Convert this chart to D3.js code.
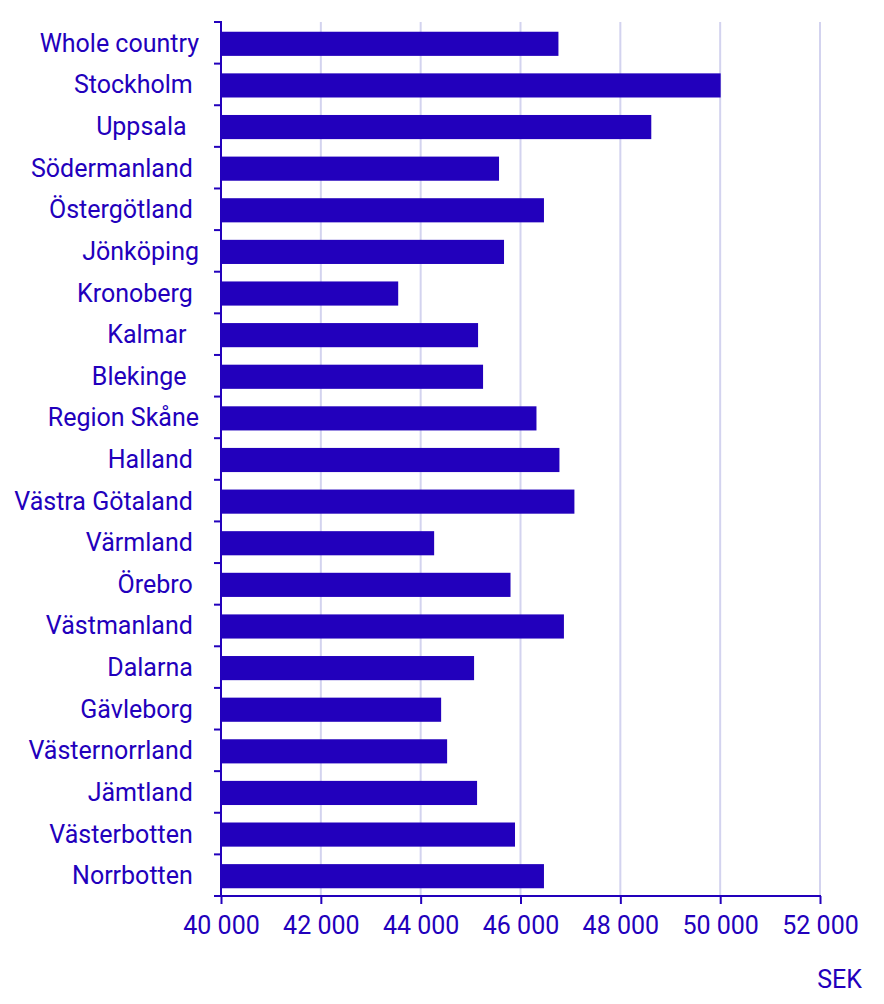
<!DOCTYPE html>
<html>
<head>
<meta charset="utf-8">
<script src="https://cdn.jsdelivr.net/npm/d3@7"></script>
<style>
  body { margin: 0; background: #fff; }
  text { font-family: Roboto, sans-serif; }
</style>
</head>
<body>
<div id="chart"></div>
<script>
// regions (trailing spaces are in the source labels)
var regions = ['Whole country', 'Stockholm ', 'Uppsala  ', 'Södermanland ', 'Östergötland ',
  'Jönköping', 'Kronoberg ', 'Kalmar  ', 'Blekinge  ', 'Region Skåne', 'Halland ',
  'Västra Götaland ', 'Värmland ', 'Örebro ', 'Västmanland ', 'Dalarna ', 'Gävleborg ',
  'Västernorrland ', 'Jämtland ', 'Västerbotten ', 'Norrbotten '];
// salary, SEK
var salaries = [46760, 50010, 48620, 45570, 46470, 45670, 43550, 45150, 45250, 46320, 46780,
  47080, 44270, 45800, 46870, 45070, 44410, 44530, 45130, 45890, 46470];
var xTicks = [40000, 42000, 44000, 46000, 48000, 50000, 52000];
var unitLabel = 'SEK';

var W = 884, H = 1004;
var plotL = 221, plotR = 820, plotT = 22, plotB = 896;
var blue = '#2200BC', grid = '#D3D3EF';
var fontSize = 25;

var svg = d3.select('#chart').append('svg')
  .attr('width', W)
  .attr('height', H);

var x = d3.scaleLinear().domain([40000, 52000]).range([plotL, plotR]);
var y = d3.scaleBand().domain(regions).range([plotT + 1, plotB + 1]).paddingInner(0.42).paddingOuter(0.21);

// gridlines
svg.append('g').selectAll('line')
  .data(xTicks.slice(1))
  .enter().append('line')
  .attr('x1', function(d){ return x(d); })
  .attr('x2', function(d){ return x(d); })
  .attr('y1', plotT)
  .attr('y2', plotB)
  .style('stroke', grid)
  .style('stroke-width', 2);

// bars
svg.append('g').selectAll('rect')
  .data(regions)
  .enter().append('rect')
  .attr('x', x(40000))
  .attr('y', function(d){ return y(d); })
  .attr('width', function(d, i){ return x(salaries[i]) - x(40000); })
  .attr('height', y.bandwidth())
  .style('fill', blue);

// x axis
var xAxis = svg.append('g')
  .attr('transform', 'translate(0,' + plotB + ')')
  .call(d3.axisBottom(x).tickValues(xTicks).tickSize(8).tickSizeOuter(0).tickPadding(12)
    .tickFormat(function(d){ return d3.format(',')(d).replace(',', ' '); }));
xAxis.select('.domain').remove();
xAxis.selectAll('line').style('stroke', blue).style('stroke-width', 2);
xAxis.selectAll('text').style('fill', blue).style('font-size', fontSize + 'px').style('font-family', 'Roboto');
svg.append('line')
  .attr('x1', plotL - 7).attr('x2', plotR + 1)
  .attr('y1', plotB).attr('y2', plotB)
  .style('stroke', blue).style('stroke-width', 2);

// y axis: labels centred on bands, ticks on band boundaries
var yAxis = svg.append('g')
  .attr('transform', 'translate(' + plotL + ',0)')
  .call(d3.axisLeft(y).tickSize(0).tickPadding(22));
yAxis.select('.domain').remove();
yAxis.selectAll('text')
  .style('fill', blue)
  .style('font-size', fontSize + 'px')
  .style('font-family', 'Roboto')
  .style('white-space', 'pre');

var bounds = d3.range(regions.length + 1).map(function(i){ return plotT + i * y.step(); });
svg.append('g').selectAll('line')
  .data(bounds)
  .enter().append('line')
  .attr('x1', plotL - 7).attr('x2', plotL)
  .attr('y1', function(d){ return d; }).attr('y2', function(d){ return d; })
  .style('stroke', blue).style('stroke-width', 2);
svg.append('line')
  .attr('x1', plotL).attr('x2', plotL)
  .attr('y1', plotT - 1).attr('y2', plotB + 1)
  .style('stroke', blue).style('stroke-width', 2);

svg.append('text')
  .attr('x', 862)
  .attr('y', 988)
  .attr('text-anchor', 'end')
  .style('fill', blue)
  .style('font-size', fontSize + 'px')
  .text(unitLabel);
</script>
</body>
</html>
